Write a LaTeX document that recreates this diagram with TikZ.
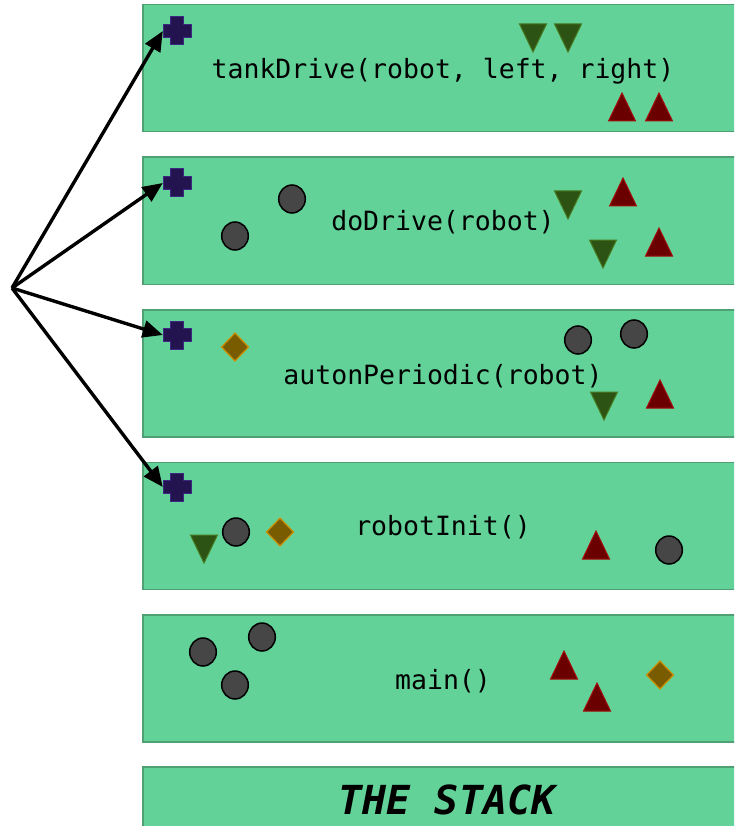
\documentclass[tikz,border=0pt]{standalone}
\usepackage{fontspec}
\setmonofont{DejaVu Sans Mono}
\usetikzlibrary{arrows.meta}
\definecolor{boxfill}{RGB}{98,210,152}
\definecolor{boxborder}{RGB}{80,160,115}
\definecolor{crossfill}{RGB}{35,20,80}
\definecolor{crossborder}{RGB}{60,40,130}
\definecolor{dnfill}{RGB}{44,82,20}
\definecolor{dnborder}{RGB}{72,122,32}
\definecolor{upfill}{RGB}{107,0,0}
\definecolor{upborder}{RGB}{165,12,12}
\definecolor{ballfill}{RGB}{70,70,70}
\definecolor{dmfill}{RGB}{122,92,0}
\definecolor{dmborder}{RGB}{205,145,0}
\tikzset{
  frame/.style={draw=boxborder, fill=boxfill, line width=1.5pt, minimum width=640pt, minimum height=127pt, anchor=north west, inner sep=0},
  label/.style={font=\ttfamily\fontsize{26.5}{30}\selectfont, inner sep=0},
  crossanchor/.style={minimum size=28pt, inner sep=0},
  crossshape/.style={fill=crossfill, draw=crossborder, line width=1pt},
  upshape/.style={fill=upfill, draw=upborder, line width=1pt},
  dnshape/.style={fill=dnfill, draw=dnborder, line width=1pt},
  ballshape/.style={fill=ballfill, draw=black, line width=1.5pt},
  dmshape/.style={fill=dmfill, draw=dmborder, line width=1.2pt},
  callarrow/.style={line width=3.4pt, -{Triangle[length=20pt,width=17pt]}}
}
\newcommand{\plusat}[3]{%
  \node[crossanchor] (#1) at (#2,#3) {};
  \filldraw[crossshape, shift={(#2,#3)}] (-6.5,-14) -- (6.5,-14) -- (6.5,-6.5) -- (14,-6.5) -- (14,6.5) -- (6.5,6.5) -- (6.5,14) -- (-6.5,14) -- (-6.5,6.5) -- (-14,6.5) -- (-14,-6.5) -- (-6.5,-6.5) -- cycle;}
\newcommand{\uptri}[2]{\filldraw[upshape, shift={(#1,#2)}] (-13.5,14) -- (0,-14) -- (13.5,14) -- cycle;}
\newcommand{\dntri}[2]{\filldraw[dnshape, shift={(#1,#2)}] (-13.5,-14) -- (0,14) -- (13.5,-14) -- cycle;}
\newcommand{\ball}[2]{\filldraw[ballshape] (#1,#2) ellipse [x radius=13.3, y radius=14];}
\newcommand{\gem}[2]{\filldraw[dmshape, shift={(#1,#2)}] (-13.5,0) -- (0,-14) -- (13.5,0) -- (0,14) -- cycle;}
\begin{document}
\begin{tikzpicture}[x=1pt,y=-1pt]
\clip (0,0) rectangle (734,826);
\useasboundingbox (0,0) rectangle (734,826);
% frames
\node[frame] (f1) at (142,4) {};
\node[frame] (f2) at (142,156.5) {};
\node[frame] (f3) at (142,309) {};
\node[frame] (f4) at (142,461.5) {};
\node[frame] (f5) at (142,614) {};
\node[frame] (f6) at (142,766) {};
% labels
\node[label] (t1) at (443,71) {tankDrive(robot, left, right)};
\node[label] (t2) at (443,222) {doDrive(robot)};
\node[label] (t3) at (443,376) {autonPeriodic(robot)};
\node[label] (t4) at (443,527) {robotInit()};
\node[label] (t5) at (443,681) {main()};
\node[inner sep=0, font=\ttfamily\bfseries\itshape\fontsize{40}{44}\selectfont] (t6) at (447,800) {THE STACK};
% frame 1
\plusat{c1}{177}{31}
\dntri{533}{38} \dntri{568}{38}
\uptri{622}{107} \uptri{659}{107}
% frame 2
\plusat{c2}{177}{183}
\ball{292}{199} \ball{235}{236}
\dntri{568}{205} \dntri{603}{254}
\uptri{623}{192} \uptri{659}{242}
% frame 3
\plusat{c3}{177}{335}
\gem{235}{347}
\ball{578}{340} \ball{634}{334}
\dntri{604}{406}
\uptri{660}{394}
% frame 4
\plusat{c4}{177}{487}
\dntri{204}{549}
\ball{236}{532}
\gem{280}{532}
\uptri{596}{545}
\ball{669}{550}
% frame 5
\ball{203}{652} \ball{262}{637} \ball{235}{685}
\uptri{564}{665} \uptri{597}{697}
\gem{660}{675}
% arrows
\coordinate (o) at (12,288);
\draw[callarrow] (o) -- (c1.west);
\draw[callarrow] (o) -- (c2.west);
\draw[callarrow] (o) -- (c3.west);
\draw[callarrow] (o) -- (c4.west);
\end{tikzpicture}
\end{document}
